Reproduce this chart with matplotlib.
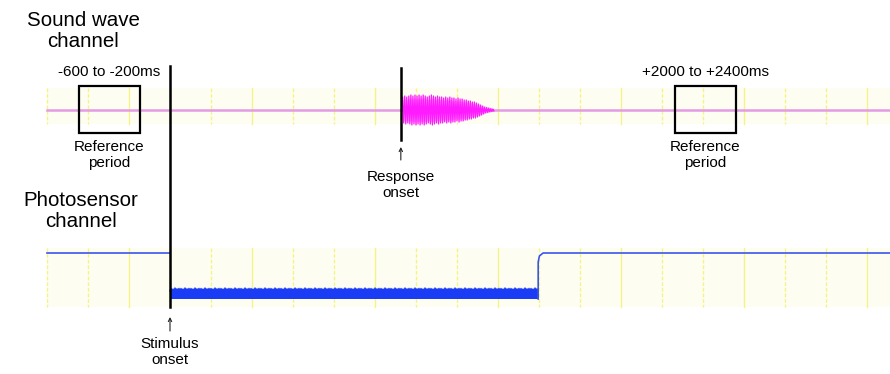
import numpy as np
import matplotlib
matplotlib.use('Agg')
import matplotlib.pyplot as plt
from matplotlib.patches import Rectangle

plt.rcParams['font.family'] = ['Liberation Sans', 'DejaVu Sans']

# ---------------- data (schematic time axis in grid divisions) ----------------
grid_divisions = list(range(0, 21))
stimulus_onset = 3.0
response_onset = 8.63
stimulus_offset = 11.98
burst_end = 10.9
reference_windows = [(0.78, 2.27), (15.32, 16.80)]
reference_labels = ['-600 to -200ms', '+2000 to +2400ms']
event_labels = ['Stimulus\nonset', 'Response\nonset']
channel_labels = ['Sound wave\nchannel', 'Photosensor\nchannel']

# sound burst: peak amplitude of each oscillation cycle (px)
sound_peaks = [13, 14, 13, 14, 15, 14, 15, 14, 15, 14, 15, 14, 13, 14, 15, 14, 13,
               14, 13, 13, 12, 13, 12, 13, 12, 12, 11, 12, 11, 11, 10, 10, 9, 9,
               8, 8, 7, 6, 5, 4, 3, 2.5, 2, 1.5, 1]
# photosensor levels (px rows)
photo_high = 253
photo_low_top = 288
photo_low_bottom = 299
photo_ripple = [0, 2.5, 0.5, 2.0, 0, 3.0, 0.8, 2.2, 0.2, 2.6]

# ---------------- layout ----------------
PX0, PXDIV = 47, 41
W, H = 890, 374
sound_base = 110
top_band = (88, 124)
bot_band = (248, 307)

fig = plt.figure(figsize=(W / 100, H / 100), dpi=100)
ax = fig.add_axes([0, 0, 1, 1])
ax.set_xlim(-PX0 / PXDIV, (W - PX0) / PXDIV)
ax.set_ylim(H, 0)
ax.axis('off')
xmax = (W - PX0) / PXDIV

band_col = '#fdfdf2'
grid_col = '#f3f36a'
for (y0, y1) in (top_band, bot_band):
    ax.add_patch(Rectangle((0, y0), xmax, y1 - y0, facecolor=band_col,
                           edgecolor='none', zorder=0))
    for i, g in enumerate(grid_divisions):
        ls = '-' if i % 3 == 2 else (0, (3, 1.5))
        ax.plot([g, g], [y0, y1], color=grid_col, lw=0.9, ls=ls,
                alpha=0.85, zorder=1)

# sound wave channel
ax.plot([0, xmax], [sound_base, sound_base], color='#e49ae4', lw=1.8, zorder=2)
n = len(sound_peaks)
bx = np.linspace(response_onset + 0.02, burst_end, 2 * n + 1)
amps = np.repeat(sound_peaks, 2)
signs = np.tile([-1, 1], n)
by = np.concatenate([[sound_base], sound_base + signs * amps])
ax.fill_between(bx[1:], sound_base - amps * 0.8, sound_base + amps * 0.8,
                color='#ff66ff', alpha=0.45, lw=0, zorder=2)
ax.plot(bx, by, color='#ff1aff', lw=0.9, zorder=3)

# photosensor channel
ax.plot([0, stimulus_onset], [photo_high, photo_high], color='#3a55ee', lw=1.2, zorder=3)
ax.fill_between([stimulus_onset, stimulus_offset], photo_low_top + 2, photo_low_bottom,
                color='#1a3cf5', lw=0, zorder=3)
step = 5 / PXDIV / len(photo_ripple) * 2
rx = np.arange(stimulus_onset, stimulus_offset, step)
ry = photo_low_top + 3 - np.resize(photo_ripple, rx.size)
ax.plot(rx, ry, color='#1a3cf5', lw=1.0, zorder=3)
ax.plot([stimulus_offset, stimulus_offset, stimulus_offset + 0.03,
         stimulus_offset + 0.12, xmax],
        [photo_low_bottom, 262, 256, photo_high, photo_high],
        color='#3a55ee', lw=1.2, zorder=3)

# reference windows
for (a, b), lab in zip(reference_windows, reference_labels):
    ax.add_patch(Rectangle((a, 86), b - a, 47, facecolor='none',
                           edgecolor='black', lw=1.6, zorder=5))
    c = (a + b) / 2
    ax.text(c, 72, lab, ha='center', va='center', fontsize=11)
    ax.text(c, 155, 'Reference\nperiod', ha='center', va='center',
            fontsize=11, linespacing=1.15)

# event lines
ax.plot([stimulus_onset, stimulus_onset], [66, 307], color='black', lw=1.8, zorder=6)
ax.plot([response_onset, response_onset], [68, 140], color='black', lw=1.8, zorder=6)

for xe, ytail, yhead, ytxt, lab in [(stimulus_onset, 331, 317, 352, event_labels[0]),
                                    (response_onset, 160, 147, 185, event_labels[1])]:
    ax.annotate('', xy=(xe, yhead), xytext=(xe, ytail),
                arrowprops=dict(arrowstyle='->', lw=0.8, color='#222222',
                                mutation_scale=6, shrinkA=0, shrinkB=0))
    ax.text(xe, ytxt, lab, ha='center', va='center', fontsize=11,
            linespacing=1.15)

# channel titles
ax.text((83 - PX0) / PXDIV, 31, channel_labels[0], ha='center', va='center',
        fontsize=14.8, linespacing=1.15)
ax.text((81 - PX0) / PXDIV, 211, channel_labels[1], ha='center', va='center',
        fontsize=14.8, linespacing=1.15)

fig.savefig('out.png', dpi=100, facecolor='white')
